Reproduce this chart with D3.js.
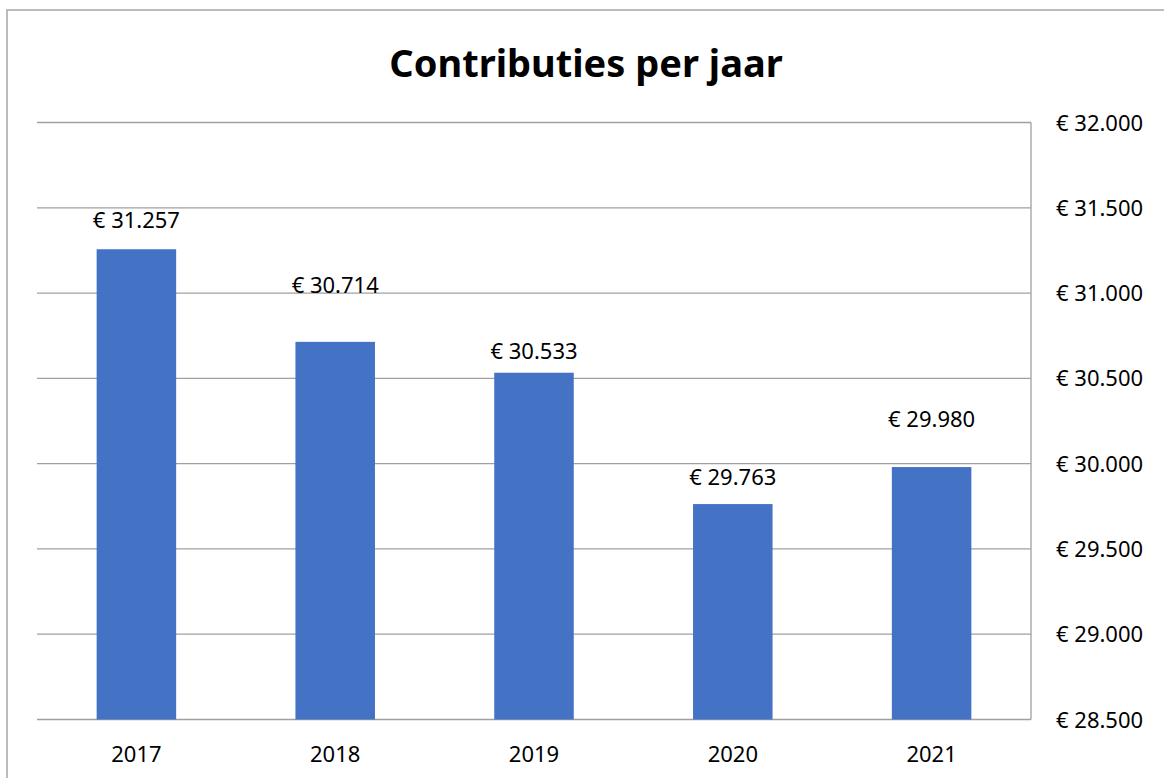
<!DOCTYPE html>
<html>
<head>
<meta charset="utf-8">
<script src="https://cdn.jsdelivr.net/npm/d3@7"></script>
<style>
  body { margin: 0; background: #fff; }
  svg { display: block; font-family: "Noto Sans", "Liberation Sans", sans-serif; }
</style>
</head>
<body>
<div id="chart"></div>
<script>
// data
const years = ["2017", "2018", "2019", "2020", "2021"];
const contributies = [31257, 30714, 30533, 29763, 29980];
const yTicks = [28500, 29000, 29500, 30000, 30500, 31000, 31500, 32000];

const width = 1164;
const height = 778;

const svg = d3.select("#chart")
  .append("svg")
  .attr("width", width)
  .attr("height", height);

// outer frame (right/bottom edges fall outside the picture)
svg.append("rect")
  .attr("x", 7)
  .attr("y", 10)
  .attr("width", width + 20)
  .attr("height", height + 20)
  .attr("fill", "none")
  .attr("stroke", "#a6a6a6")
  .attr("stroke-width", 1.5);

const plot = { left: 37, right: 1031, top: 122.5, bottom: 719.5 };

const x = d3.scaleBand()
  .domain(years)
  .range([plot.left, plot.right])
  .paddingInner(0.6)
  .paddingOuter(0.3);

const y = d3.scaleLinear()
  .domain([28500, 32000])
  .range([plot.bottom, plot.top]);

const fmt = v => "€ " + d3.format(",")(v).replace(/,/g, ".");

// gridlines
svg.append("g")
  .selectAll("line")
  .data(yTicks)
  .enter()
  .append("line")
  .attr("x1", plot.left)
  .attr("x2", plot.right)
  .attr("y1", d => y(d))
  .attr("y2", d => y(d))
  .attr("stroke", "#a0a0a0")
  .attr("stroke-width", 1.3);

// right axis line
svg.append("line")
  .attr("x1", plot.right)
  .attr("x2", plot.right)
  .attr("y1", plot.top)
  .attr("y2", plot.bottom)
  .attr("stroke", "#a0a0a0")
  .attr("stroke-width", 1.3);

// right axis labels
svg.append("g")
  .selectAll("text")
  .data(yTicks)
  .enter()
  .append("text")
  .attr("x", 1056)
  .attr("y", d => y(d) + 8)
  .attr("font-size", "22px")
  .attr("fill", "#000")
  .text(fmt);

// bars
svg.append("g")
  .selectAll("rect")
  .data(contributies)
  .enter()
  .append("rect")
  .attr("x", (d, i) => x(years[i]))
  .attr("y", d => y(d))
  .attr("width", x.bandwidth())
  .attr("height", d => plot.bottom - y(d))
  .attr("fill", "#4472c4");

// data labels (Excel placed them at uneven heights)
const labelLift = [21, 49, 14, 19, 40];
svg.append("g")
  .selectAll("text")
  .data(contributies)
  .enter()
  .append("text")
  .attr("x", (d, i) => x(years[i]) + x.bandwidth() / 2)
  .attr("y", (d, i) => y(d) - labelLift[i])
  .attr("text-anchor", "middle")
  .attr("font-size", "22px")
  .attr("fill", "#000")
  .text(fmt);

// x labels
svg.append("g")
  .selectAll("text")
  .data(years)
  .enter()
  .append("text")
  .attr("x", d => x(d) + x.bandwidth() / 2)
  .attr("y", 762)
  .attr("text-anchor", "middle")
  .attr("font-size", "22px")
  .attr("fill", "#000")
  .text(d => d);

// title
svg.append("text")
  .attr("x", 586)
  .attr("y", 77)
  .attr("text-anchor", "middle")
  .attr("font-size", "38px")
  .attr("font-weight", "bold")
  .attr("fill", "#000")
  .text("Contributies per jaar");
</script>
</body>
</html>
